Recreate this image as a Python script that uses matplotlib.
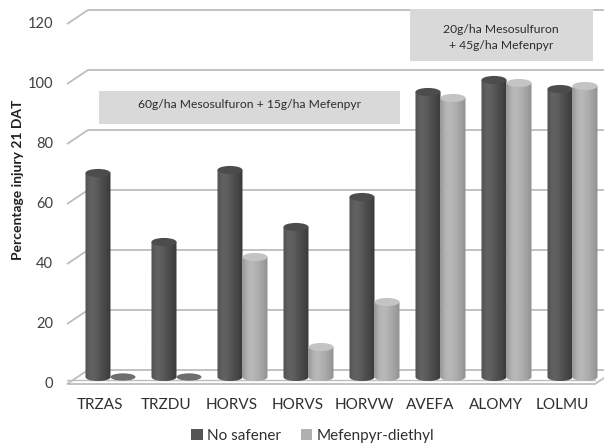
import numpy as np
import matplotlib.pyplot as plt
from matplotlib.patches import Ellipse, Polygon, Rectangle, PathPatch, Patch
from matplotlib.path import Path

plt.rcParams['font.family'] = ['Lato', 'DejaVu Sans']

# injury (%) 21 days after treatment
species = ['TRZAS', 'TRZDU', 'HORVS', 'HORVS', 'HORVW', 'AVEFA', 'ALOMY', 'LOLMU']
no_safener = [68, 45, 69, 50, 60, 95, 99, 96]
mefenpyr = [0, 0, 40, 10, 25, 93, 98, 97]
yticks = [0, 20, 40, 60, 80, 100, 120]

# pseudo-3d geometry (category units / percent units)
DX, DY = 0.318, 4.67      # depth of the back wall
BW = 0.379                # cylinder width
EH = 2.7                  # height of the top ellipse
GRID = '#bdbdbd'

fig = plt.figure(figsize=(6.04, 4.46), dpi=100)
ax = fig.add_axes([0, 0, 1, 1])
ax.set_xlim(-100 / 66, 504 / 66)
ax.set_ylim(-62 / 3, 128)
ax.axis('off')

x0, x1 = -0.5, len(species) - 0.5

# back wall gridlines with the diagonal ticks on the side
for v in yticks[1:]:
    ax.plot([x0, x0 + DX, x1 + DX + 1], [v, v + DY, v + DY], color=GRID, lw=1.3,
            solid_capstyle='butt', zorder=1)
for v in yticks:
    ax.text(x0 - 0.21, v, str(v), ha='right', va='center', fontsize=10.5, color='#404040')

# floor slab
floor = Polygon([[x0, 0], [x0 + DX, DY], [x1 + DX + 1, DY], [x1 + DX + 1, DY],
                 [x1 + DX, DY], [x1, 0]], closed=True, fc='white', ec=GRID, lw=1.3, zorder=1)
ax.add_patch(floor)
ax.plot([x0, x1], [1.3, 1.3], color=GRID, lw=1.0, zorder=1)
ax.plot([x1 + DX, x1 + DX + 1], [DY, DY], color=GRID, lw=1.3, zorder=1)

dark_grad = np.array([[0x55, 0x5e, 0x62, 0x5e, 0x58, 0x50, 0x4a, 0x44, 0x3c]]) / 255.0
light_grad = np.array([[0x9c, 0xae, 0xb6, 0xb8, 0xb4, 0xae, 0xa6, 0x9e, 0x94]]) / 255.0


def cylinder(left, value, grad, top_color, zero_color):
    base = DY / 2
    cx = left + BW / 2
    if value <= 0:
        ax.add_patch(Ellipse((cx, base), BW, EH * 0.9, fc=zero_color, ec='none', zorder=3))
        return
    top = value + base
    t = np.linspace(np.pi, 2 * np.pi, 40)
    verts = [(left, top)] + [(cx + BW / 2 * np.cos(a), base + EH / 2 * np.sin(a)) for a in t]
    verts += [(left + BW, top), (left, top)]
    codes = [Path.MOVETO] + [Path.LINETO] * (len(verts) - 2) + [Path.CLOSEPOLY]
    clip = PathPatch(Path(verts, codes), fc='none', ec='none')
    ax.add_patch(clip)
    im = ax.imshow(np.repeat(grad, 2, axis=0), cmap='gray', vmin=0, vmax=1, aspect='auto',
                   extent=[left, left + BW, base - EH / 2, top], interpolation='bilinear',
                   zorder=3)
    im.set_clip_path(clip)
    ax.add_patch(Ellipse((cx, top), BW, EH, fc=top_color, ec='none', zorder=3.5))


for i in range(len(species)):
    c = i + DX / 2
    cylinder(c - BW, no_safener[i], dark_grad, '#4c4c4c', '#666666')
    cylinder(c, mefenpyr[i], light_grad, '#c4c4c4', '#6e6e6e')
    ax.text(i, -7, species[i], ha='center', va='center', fontsize=11, color='#303030')

# treatment boxes
ax.add_patch(Rectangle((-0.015, 86.7), 4.56, 11.0, fc='#d9d9d9', ec='none', zorder=2))
ax.text(2.26, 93.3, '60g/ha Mesosulfuron + 15g/ha Mefenpyr', ha='center', va='center',
        fontsize=8.7, color='#2c2c2c', zorder=4)
ax.add_patch(Rectangle((4.697, 107.7), 2.77, 17.3, fc='#d9d9d9', ec='none', zorder=2))
ax.text(6.08, 118.3, '20g/ha Mesosulfuron', ha='center', va='center',
        fontsize=8.7, color='#2c2c2c', zorder=4)
ax.text(6.08, 112.8, '+ 45g/ha Mefenpyr', ha='center', va='center',
        fontsize=8.7, color='#2c2c2c', zorder=4)

fig.text(0.03, 0.597, 'Percentage injury 21 DAT', rotation=90, ha='center', va='center',
         fontsize=10, fontweight='bold', color='#202020')

handles = [Patch(fc='#555555'), Patch(fc='#b0b0b0')]
fig.legend(handles, ['No safener', 'Mefenpyr-diethyl'], loc='center', ncol=2,
           bbox_to_anchor=(0.518, 0.022), frameon=False, fontsize=11, handlelength=0.75,
           handleheight=0.75, handletextpad=0.3, columnspacing=1.3, labelcolor='#303030')

fig.savefig('out.png', dpi=100)
